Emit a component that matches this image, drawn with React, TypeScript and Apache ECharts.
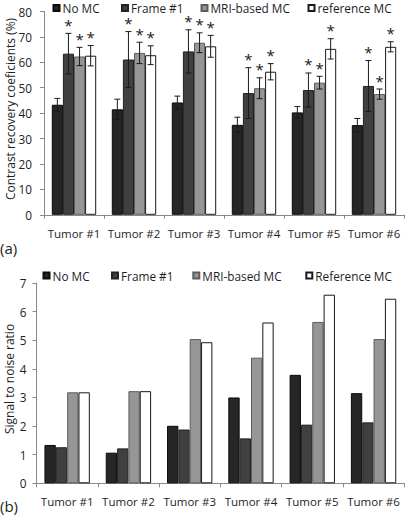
import React, { useEffect, useRef } from "react";
import * as echarts from "echarts";

const categories = ["Tumor #1", "Tumor #2", "Tumor #3", "Tumor #4", "Tumor #5", "Tumor #6"];

// (a) Contrast recovery coefficients (%)
const crcNoMC = [43.3, 41.5, 44.2, 35.4, 40.3, 35.3];
const crcNoMCErr = [2.5, 4.0, 2.5, 3.0, 2.3, 2.6];
const crcFrame1 = [63.4, 61.1, 64.3, 47.9, 49.1, 50.7];
const crcFrame1Err = [8.0, 11.0, 8.5, 10.0, 6.7, 10.0];
const crcMRI = [62.3, 63.7, 67.7, 49.8, 52.0, 47.5];
const crcMRIErr = [3.6, 4.2, 3.9, 4.1, 2.5, 2.0];
const crcRef = [62.6, 62.8, 66.3, 56.3, 65.3, 66.1];
const crcRefErr = [4.0, 3.7, 4.3, 3.2, 4.0, 2.0];
const starNoMC = [false, false, false, false, false, false];
const starFrame1 = [true, true, true, true, true, true];
const starMRI = [true, true, true, true, true, true];
const starRef = [true, true, true, true, true, true];

// (b) Signal to noise ratio
const snrNoMC = [1.34, 1.07, 2.01, 3.0, 3.79, 3.15];
const snrFrame1 = [1.26, 1.22, 1.88, 1.57, 2.05, 2.13];
const snrMRI = [3.18, 3.22, 5.04, 4.39, 5.64, 5.04];
const snrRef = [3.18, 3.22, 4.93, 5.62, 6.59, 6.45];

const crcTicks = [0, 10, 20, 30, 40, 50, 60, 70, 80];
const snrTicks = [0, 1, 2, 3, 4, 5, 6, 7];

const FONT = "'Open Sans', 'Noto Sans', sans-serif";
const TXT = "#1e1e1e";
const AXIS = "#888888";
const CAT_GAP = 0.26;

const styles = [
  { color: "#262626", borderColor: "#0a0a0a" },
  { color: "#404040", borderColor: "#222222" },
  { color: "#969696", borderColor: "#5c5c5c" },
  { color: "#ffffff", borderColor: "#1a1a1a" },
];

function barSeries(name: string, data: number[], idx: number, axis: number) {
  return {
    type: "bar",
    name,
    xAxisIndex: axis,
    yAxisIndex: axis,
    data,
    barGap: "0%",
    barCategoryGap: CAT_GAP * 100 + "%",
    itemStyle: { color: styles[idx].color, borderColor: styles[idx].borderColor, borderWidth: 1 },
    z: 2,
  };
}

function errSeries(values: number[], errs: number[], stars: boolean[], idx: number) {
  return {
    type: "custom",
    xAxisIndex: 0,
    yAxisIndex: 0,
    z: 5,
    silent: true,
    data: values.map((v, i) => [i, v, errs[i], stars[i] ? 1 : 0]),
    encode: { x: 0, y: 1 },
    renderItem: (params: any, api: any) => {
      const cat = api.value(0);
      const v = api.value(1);
      const e = api.value(2);
      const s = api.value(3);
      const c = api.coord([cat, v]);
      const band = api.size([1, 0])[0];
      const bw = (band * (1 - CAT_GAP)) / 4;
      const x = c[0] + (idx - 1.5) * bw;
      const top = api.coord([cat, v + e])[1];
      const bot = api.coord([cat, v - e])[1];
      const ls = { stroke: "#1a1a1a", lineWidth: 1 };
      const children: any[] = [
        { type: "line", shape: { x1: x, y1: top, x2: x, y2: bot }, style: ls },
        { type: "line", shape: { x1: x - 3, y1: top, x2: x + 3, y2: top }, style: ls },
        { type: "line", shape: { x1: x - 3, y1: bot, x2: x + 3, y2: bot }, style: ls },
      ];
      if (s) {
        children.push({
          type: "text",
          style: {
            text: "*",
            x: x,
            y: top - 1,
            align: "center",
            verticalAlign: "bottom",
            fill: "#1a1a1a",
            font: "15px " + FONT,
          },
        });
      }
      return { type: "group", children };
    },
  };
}

function legendItem(name: string, left: number, top: number) {
  return {
    data: [name],
    left,
    top,
    padding: 0,
    itemGap: 0,
    itemWidth: 6,
    itemHeight: 6,
    icon: "rect",
    selectedMode: false,
    textStyle: { fontFamily: FONT, fontSize: 11.8, lineHeight: 13, color: TXT, padding: [0, 0, 0, -2] },
  };
}

export default function App() {
  const ref = useRef<HTMLDivElement>(null);
  useEffect(() => {
    if (!ref.current) return;
    const chart = echarts.init(ref.current, undefined, { renderer: "svg" });
    const yAxisCommon = {
      type: "value",
      axisLine: { show: true, lineStyle: { color: AXIS } },
      axisTick: { show: true, inside: false, length: 4, lineStyle: { color: AXIS } },
      splitLine: { show: false },
      axisLabel: { fontFamily: FONT, fontSize: 11.8, color: TXT },
    };
    const xAxisCommon = {
      type: "category",
      data: categories,
      axisLine: { show: true, lineStyle: { color: AXIS } },
      axisTick: { show: true, length: 4, lineStyle: { color: AXIS } },
      axisLabel: { fontFamily: FONT, fontSize: 11.5, color: TXT, margin: 12.5, interval: 0 },
    };
    chart.setOption({
      animation: false,
      backgroundColor: "#ffffff",
      grid: [
        { left: 44, top: 11.5, width: 360, height: 203.3 },
        { left: 36.5, top: 283, width: 367.7, height: 200.3 },
      ],
      xAxis: [
        { ...xAxisCommon, gridIndex: 0 },
        { ...xAxisCommon, gridIndex: 1 },
      ],
      yAxis: [
        {
          ...yAxisCommon,
          gridIndex: 0,
          min: crcTicks[0],
          max: crcTicks[crcTicks.length - 1],
          interval: 10,
          axisLabel: { ...yAxisCommon.axisLabel, margin: 12 },
        },
        {
          ...yAxisCommon,
          gridIndex: 1,
          min: snrTicks[0],
          max: snrTicks[snrTicks.length - 1],
          interval: 1,
          axisLabel: { ...yAxisCommon.axisLabel, margin: 10 },
        },
      ],
      legend: [
        legendItem("No MC", 52.5, 1.5),
        legendItem("Frame #1", 121, 1.5),
        legendItem("MRI-based MC", 200.5, 1.5),
        legendItem("reference MC", 307.5, 1.5),
        legendItem("No MC ", 42.5, 269),
        legendItem("Frame #1 ", 111, 269),
        legendItem("MRI-based MC ", 192.3, 269),
        legendItem("Reference MC", 305.3, 269),
      ],
      series: [
        barSeries("No MC", crcNoMC, 0, 0),
        barSeries("Frame #1", crcFrame1, 1, 0),
        barSeries("MRI-based MC", crcMRI, 2, 0),
        barSeries("reference MC", crcRef, 3, 0),
        errSeries(crcNoMC, crcNoMCErr, starNoMC, 0),
        errSeries(crcFrame1, crcFrame1Err, starFrame1, 1),
        errSeries(crcMRI, crcMRIErr, starMRI, 2),
        errSeries(crcRef, crcRefErr, starRef, 3),
        barSeries("No MC ", snrNoMC, 0, 1),
        barSeries("Frame #1 ", snrFrame1, 1, 1),
        barSeries("MRI-based MC ", snrMRI, 2, 1),
        barSeries("Reference MC", snrRef, 3, 1),
      ],
      graphic: [
        {
          type: "text",
          x: 10,
          y: 109,
          rotation: Math.PI / 2,
          style: {
            text: "Contrast recovery coeficients (%)",
            font: "12px " + FONT,
            fill: TXT,
            align: "center",
            verticalAlign: "middle",
          },
        },
        {
          type: "text",
          x: 9,
          y: 379,
          rotation: Math.PI / 2,
          style: {
            text: "Signal to noise ratio",
            font: "12px " + FONT,
            fill: TXT,
            align: "center",
            verticalAlign: "middle",
          },
        },
        {
          type: "text",
          x: 0,
          y: 248,
          style: { text: "(a)", font: "15px " + FONT, fill: TXT, verticalAlign: "middle" },
        },
        {
          type: "text",
          x: 0,
          y: 506,
          style: { text: "(b)", font: "15px " + FONT, fill: TXT, verticalAlign: "middle" },
        },
      ],
    });
    return () => chart.dispose();
  }, []);
  return (
    <div
      ref={ref}
      style={{ position: "fixed", left: 0, top: 0, width: 406, height: 522, background: "#fff" }}
    />
  );
}
